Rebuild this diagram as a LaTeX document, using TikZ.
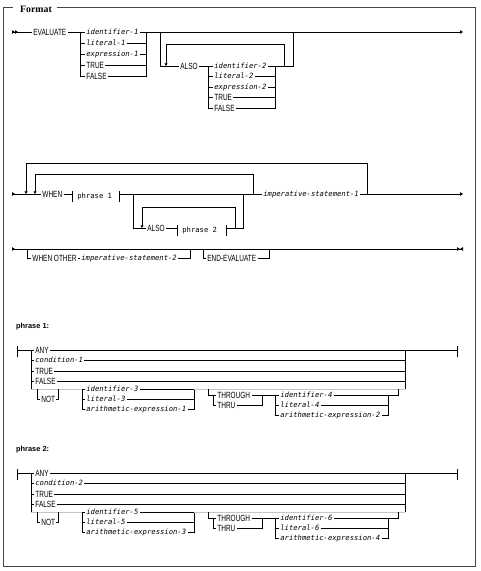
\documentclass[tikz,border=0pt]{standalone}
\usepackage{fontspec}
\usetikzlibrary{arrows.meta}
\newfontfamily\kwfont{Liberation Sans}[FakeStretch=0.72]
\newfontfamily\monofont{DejaVu Sans Mono}
\newfontfamily\titlefont{Liberation Serif}
\newfontfamily\labelfont{Liberation Sans}
\tikzset{
  rr/.style={draw=black, line width=0.75pt},
  faintline/.style={draw=gray!45, line width=0.6pt},
  frameline/.style={draw=gray!55!black, line width=1pt},
  kw/.style={font=\kwfont\fontsize{9}{10}\selectfont, inner sep=1.2pt, anchor=west, text height=6.4pt, text depth=0pt},
  var/.style={font=\monofont\itshape\fontsize{7.2}{8}\selectfont, inner sep=1.2pt, anchor=west, text height=4.8pt, text depth=0.6pt},
  ph/.style={font=\monofont\fontsize{7.2}{8}\selectfont, inner sep=1.2pt, anchor=west, text height=4.8pt, text depth=0.6pt},
  lbl/.style={font=\labelfont\bfseries\fontsize{7.4}{8}\selectfont, inner sep=0pt, anchor=west},
  ttl/.style={font=\titlefont\bfseries\fontsize{9.8}{10}\selectfont, inner sep=0pt, anchor=west}
}
% #1 prefix, #2 label, #3 condition, #4-#6 first group, #7-#9 second group
\newcommand\phrasediagram[9]{%
  \node[lbl] (#1lab) at (16,327) {#2};
  \coordinate (#1s) at (17,350);
  \coordinate (#1e) at (457,350);
  \coordinate (#1L) at (31,0);
  \coordinate (#1R) at (405,0);
  \coordinate (#1ca) at (82,0);
  \coordinate (#1cb) at (194,0);
  \coordinate (#1cc) at (213,0);
  \coordinate (#1cd) at (275,0);
  \coordinate (#1ce) at (388,0);
  \node[kw] (#1any) at (34,350) {ANY};
  \node[var] (#1cond) at (34,360.5) {#3};
  \node[kw] (#1tru) at (34,371) {TRUE};
  \node[kw] (#1fal) at (34,381) {FALSE};
  \node[kw] (#1not) at (40,399) {NOT};
  \node[var] (#1ida) at (85,389) {#4};
  \node[var] (#1lita) at (85,399) {#5};
  \node[var] (#1ara) at (85,409) {#6};
  \node[kw] (#1thr) at (216,395) {THROUGH};
  \node[kw] (#1thu) at (216,405) {THRU};
  \node[var] (#1idb) at (279,395) {#7};
  \node[var] (#1litb) at (279,405) {#8};
  \node[var] (#1arb) at (279,415) {#9};
  % end ticks
  \draw[rr] ([yshift=4pt]#1s) -- ([yshift=-7pt]#1s);
  \draw[rr] ([yshift=4pt]#1e) -- ([yshift=-7pt]#1e);
  % first four alternatives
  \draw[rr] (#1s) -- (#1any.west);
  \draw[rr] (#1any.east) -- (#1e);
  \draw[rr] (#1L |- #1any.west) -- (31,389);
  \draw[rr] (#1R |- #1any.east) -- (405,389);
  \foreach \n in {cond,tru,fal}{
    \draw[rr] (#1L |- #1\n.west) -- (#1\n.west);
    \draw[rr] (#1\n.east) -- (#1R |- #1\n.east);
  }
  % fifth alternative
  \draw[faintline] (31,389) -- (#1ca |- #1ida.west);
  \draw[rr] (#1ca |- #1ida.west) -- (#1ida.west);
  \draw[rr] (37,389) |- (#1not.west);
  \draw[rr] (#1not.east) -| (58,389);
  \draw[rr] (#1ca |- #1ida.west) |- (#1ara.west);
  \draw[rr] (#1ca |- #1lita.west) -- (#1lita.west);
  \draw[rr] (#1ida.east) -- (#1cb |- #1ida.east);
  \draw[rr] (#1lita.east) -- (#1cb |- #1lita.east);
  \draw[rr] (#1ara.east) -| (#1cb |- #1ida.east);
  \draw[faintline] (194,389) -- (405,389);
  \draw[rr] (208,389) |- (#1thr.west);
  \draw[rr] (#1cc |- #1thr.west) |- (#1thu.west);
  \draw[rr] (#1thu.east) -| (262,395);
  \draw[rr] (#1thr.east) -- (#1idb.west);
  \draw[rr] (#1cd |- #1idb.west) |- (#1arb.west);
  \draw[rr] (#1cd |- #1litb.west) -- (#1litb.west);
  \draw[rr] (#1litb.east) -- (#1ce |- #1litb.east);
  \draw[rr] (#1arb.east) -| (#1ce |- #1idb.east);
  \draw[rr] (#1idb.east) -| (398,389);
}
\begin{document}
\begin{tikzpicture}[x=1pt,y=-1pt]
\useasboundingbox (0,0) rectangle (480,571);
% frame
\node[ttl] (fmt) at (20,9) {Format};
\draw[frameline] (13,7) -- (3,7) -- (3,566) -- (475,566) -- (475,7) -- (57,7);

% ---------------- line 1
\coordinate (s1) at (12,32);
\coordinate (e1) at (463,32);
\coordinate (v1a) at (80,0);
\coordinate (v1b) at (146,0);
\coordinate (v1c) at (160,0);
\coordinate (v1e) at (208,0);
\coordinate (v1f) at (275,0);
\node[kw] (eval) at (32,32) {EVALUATE};
\node[var] (id1) at (85,32) {identifier-1};
\node[var] (lit1) at (85,43) {literal-1};
\node[var] (exp1) at (85,54) {expression-1};
\node[kw] (tru1) at (85,65) {TRUE};
\node[kw] (fal1) at (85,76) {FALSE};
\draw[rr,{Triangle[reversed,length=3pt,width=3.5pt] Triangle[reversed,length=3pt,width=3.5pt]}-] (s1) -- (eval.west);
\draw[rr] (eval.east) -- (id1.west);
\draw[rr] (v1a |- id1.west) |- (fal1.west);
\draw[rr] (fal1.east) -| (v1b |- id1.east);
\foreach \n in {lit1,exp1,tru1}{
  \draw[rr] (v1a |- \n.west) -- (\n.west);
  \draw[rr] (\n.east) -- (v1b |- \n.east);
}
\draw[rr,-{Triangle[length=3pt,width=3.5pt]}] (id1.east) -- (e1);
% ALSO group
\node[kw] (also1) at (179,66) {ALSO};
\node[var] (id2) at (213,66) {identifier-2};
\node[var] (lit2) at (213,76.5) {literal-2};
\node[var] (exp2) at (213,87) {expression-2};
\node[kw] (tru2) at (213,97.5) {TRUE};
\node[kw] (fal2) at (213,108) {FALSE};
\draw[rr] (v1c |- id1.east) |- (also1.west);
\draw[rr,-{Triangle[length=2.6pt,width=2.8pt]}] (284,66) |- (166,44) -- (166,66);
\draw[rr] (also1.east) -- (id2.west);
\draw[rr] (v1e |- id2.west) |- (fal2.west);
\foreach \n in {lit2,exp2,tru2}{
  \draw[rr] (v1e |- \n.west) -- (\n.west);
  \draw[rr] (\n.east) -- (v1f |- \n.east);
}
\draw[rr] (fal2.east) -| (v1f |- id2.east);
\draw[rr] (id2.east) -| (293,32);

% ---------------- line 2
\coordinate (s2) at (12,194);
\coordinate (e2) at (463,194);
\node[kw] (when) at (41,194) {WHEN};
\node[ph] (ph1) at (76,196) {phrase 1};
\node[var] (imp1) at (262,194) {imperative-statement-1};
\node[kw] (also2) at (146,228) {ALSO};
\node[ph] (ph2) at (181,230) {phrase 2};
\draw[rr,{Triangle[reversed,length=3pt,width=3.5pt]}-] (s2) -- (when.west);
\draw[rr] (when.east) -- (72,194);
\draw[rr] (72,191) -- (72,202);
\draw[rr] (119,191) -- (119,202);
\draw[rr] (119,194) -- (imp1.west);
\draw[rr,-{Triangle[length=3pt,width=3.5pt]}] (imp1.east) -- (e2);
\draw[rr,-{Triangle[length=2.6pt,width=2.8pt]}] (367,194) |- (26,163) -- (26,194);
\draw[rr,-{Triangle[length=2.6pt,width=2.8pt]}] (253,194) |- (35,174) -- (35,194);
\draw[rr] (133,194) |- (also2.west);
\draw[rr,-{Triangle[length=2.6pt,width=2.8pt]}] (235,228) |- (142,207) -- (142,228);
\draw[rr] (also2.east) -- (177,228);
\draw[rr] (177,225) -- (177,236);
\draw[rr] (226,225) -- (226,236);
\draw[rr] (226,228) -| (243,194);

% ---------------- line 3
\coordinate (s3) at (12,249);
\coordinate (e3) at (463,249);
\node[kw] (wo) at (31,258) {WHEN OTHER};
\node[var] (imp2) at (80,258) {imperative-statement-2};
\node[kw] (endev) at (206,258) {END-EVALUATE};
\draw[rr,{Triangle[reversed,length=3pt,width=3.5pt]}-{Triangle[length=3pt,width=3.5pt] Triangle[reversed,length=3pt,width=3.5pt]}] (s3) -- (e3);
\draw[rr] (27,249) |- (wo.west);
\draw[rr] (wo.east) -- (imp2.west);
\draw[rr] (imp2.east) -| (190,249);
\draw[rr] (203,249) |- (endev.west);
\draw[rr] (endev.east) -| (269,249);

% ---------------- phrase 1 and phrase 2
\phrasediagram{pA}{phrase 1:}{condition-1}{identifier-3}{literal-3}{arithmetic-expression-1}{identifier-4}{literal-4}{arithmetic-expression-2}
\begin{scope}[yshift=-123pt]
\phrasediagram{pB}{phrase 2:}{condition-2}{identifier-5}{literal-5}{arithmetic-expression-3}{identifier-6}{literal-6}{arithmetic-expression-4}
\end{scope}
\end{tikzpicture}
\end{document}
